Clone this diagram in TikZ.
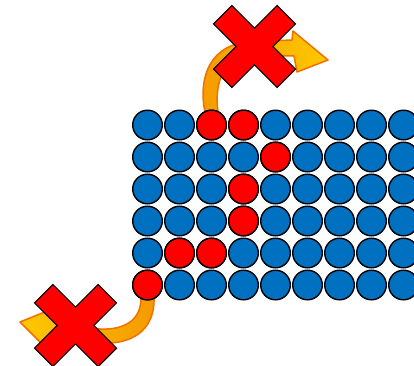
\documentclass[tikz,border=0pt]{standalone}
\definecolor{ballblue}{HTML}{0070C0}
\definecolor{ballred}{HTML}{FF0000}
\definecolor{arrowor}{HTML}{F59A00}
\definecolor{arrowye}{HTML}{FFC800}
\definecolor{arrowedge}{HTML}{F07000}
\tikzset{
  ball/.style={circle, draw=black, line width=1.4pt, minimum size=29.6pt, inner sep=0pt},
  blueball/.style={ball, fill=ballblue},
  redball/.style={ball, fill=ballred},
  arrowbody/.style={draw=arrowedge, line width=1.5pt, line join=round},
  crossmark/.style={fill=ballred, draw=black, line width=1.2pt, line join=miter},
}
\newcommand{\crossshape}{(13,45) -- (13,13) -- (45,13) -- (45,-13) -- (13,-13) -- (13,-45) -- (-13,-45) -- (-13,-13) -- (-45,-13) -- (-45,13) -- (-13,13) -- (-13,45) -- cycle}
\begin{document}
\begin{tikzpicture}[x=1pt,y=-1pt]
\useasboundingbox (0,0) rectangle (414,365);
% top arrow
\shadedraw[arrowbody, left color=arrowor, right color=arrowye]
  (205,112) .. controls (199,85) and (205,48) .. (245,42) -- (292,40) -- (293,31) -- (328,60) -- (297,72) -- (294,56) -- (248,55) .. controls (224,58) and (214,82) .. (218,112) -- cycle;
% bottom arrow
\shadedraw[arrowbody, left color=arrowye, right color=arrowor]
  (141,298) .. controls (141,322) and (122,330) .. (100,329) -- (55,320) -- (52,309) -- (20,322) -- (45,347) -- (50,338) -- (100,343) .. controls (132,345) and (155,330) .. (154,298) -- cycle;
% grid of balls
\foreach \r in {0,...,5}{
  \foreach \c in {0,...,8}{
    \node[blueball] (b\r\c) at ({147.5+32*\c},{125+32*\r}) {};
  }
}
\foreach \r/\c in {0/2,0/3,1/4,2/3,3/3,4/1,4/2,5/0}{
  \node[redball] (r\r\c) at ({147.5+32*\c},{125+32*\r}) {};
}
% crosses
\begin{scope}[shift={(254.5,46.5)}, rotate=45]
  \filldraw[crossmark] \crossshape;
\end{scope}
\begin{scope}[shift={(75.5,325.5)}, rotate=45]
  \filldraw[crossmark] \crossshape;
\end{scope}
\end{tikzpicture}
\end{document}
